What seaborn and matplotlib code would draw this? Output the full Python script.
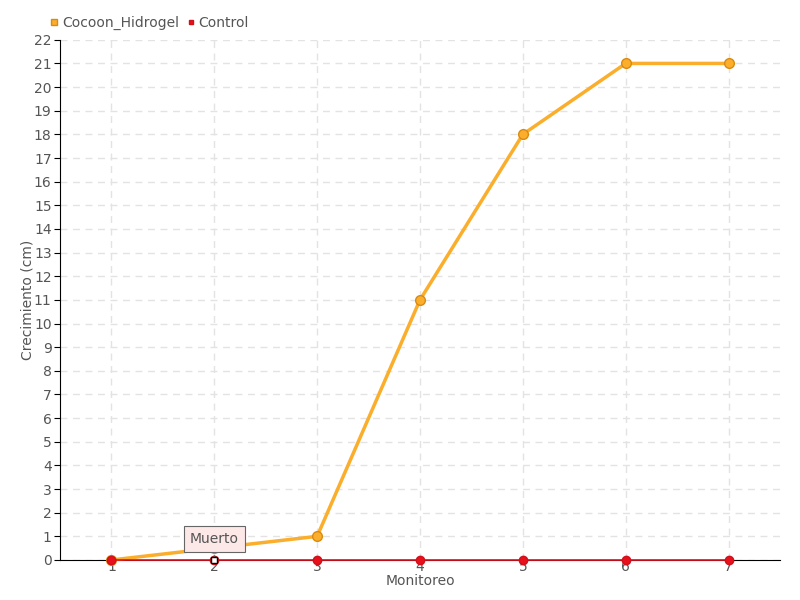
import matplotlib
matplotlib.use("Agg")
import matplotlib.pyplot as plt
import seaborn as sns
import pandas as pd

monitoreo = [1, 2, 3, 4, 5, 6, 7]
cocoon_hidrogel = [0, 0.5, 1, 11, 18, 21, 21]
control = [0, 0, 0, 0, 0, 0, 0]

df = pd.DataFrame({"Monitoreo": monitoreo * 2,
                   "Crecimiento": cocoon_hidrogel + control,
                   "Serie": ["Cocoon_Hidrogel"] * 7 + ["Control"] * 7})

sns.set_style("white")
plt.rcParams["font.family"] = ["DejaVu Sans"]
fig = plt.figure(figsize=(8, 6), dpi=100)
ax = fig.add_axes([0.075, 0.0667, 0.9, 0.867])

colors = {"Cocoon_Hidrogel": "#fbae2c", "Control": "#e8101c"}
edges = {"Cocoon_Hidrogel": "#d98a10", "Control": "#d0101a"}

for serie, lw, z in [("Cocoon_Hidrogel", 2.5, 3), ("Control", 1.2, 4)]:
    d = df[df["Serie"] == serie]
    sns.lineplot(data=d, x="Monitoreo", y="Crecimiento", ax=ax, color=colors[serie],
                 linewidth=lw, marker="o", markersize=7 if serie == "Cocoon_Hidrogel" else 6,
                 markeredgecolor=edges[serie], markeredgewidth=1, label=serie,
                 zorder=z, clip_on=False)

ax.set_xlim(0.5, 7.5)
ax.set_ylim(0, 22)
ax.set_xticks(monitoreo)
ax.set_yticks(range(0, 23))
ax.grid(True, color="#e3e3e3", linestyle=(0, (5, 4)), linewidth=1)
for s in ["top", "right"]:
    ax.spines[s].set_visible(False)
ax.spines["left"].set_color("black")
ax.spines["bottom"].set_color("black")
ax.spines["bottom"].set_zorder(2)
ax.tick_params(axis="y", length=4, color="black", labelsize=10, labelcolor="#555555", pad=2, left=True)
ax.tick_params(axis="x", length=0, labelsize=10, labelcolor="#555555", pad=0, bottom=True)
ax.set_xlabel("Monitoreo", color="#555555", fontsize=10, labelpad=0)
ax.set_ylabel("Crecimiento (cm)", color="#555555", fontsize=10, labelpad=-2)
ax.yaxis.set_label_coords(-0.035, 0.5)

ax.legend(loc="lower left", bbox_to_anchor=(-0.03, 0.995), ncol=2, frameon=False,
          handlelength=0.5, handletextpad=0.3, columnspacing=0.6, fontsize=10,
          labelcolor="#555555", markerscale=0.6)
leg = ax.get_legend()
for h in leg.legend_handles:
    h.set_linestyle("None")
    h.set_marker("s")

ax.annotate("Muerto", xy=(monitoreo[1], control[1]), xytext=(0, 15), textcoords="offset points",
            ha="center", va="center", fontsize=10, color="#555555",
            bbox=dict(boxstyle="square,pad=0.45", fc="#fde8e8", ec="#666666", lw=0.8),
            arrowprops=dict(arrowstyle="-", color="#666666", lw=0.8), zorder=6)
ax.plot([monitoreo[1]], [control[1]], marker="s", markersize=5, color="white",
        markeredgecolor="black", zorder=7, clip_on=False)

fig.savefig("out.png", dpi=100)
